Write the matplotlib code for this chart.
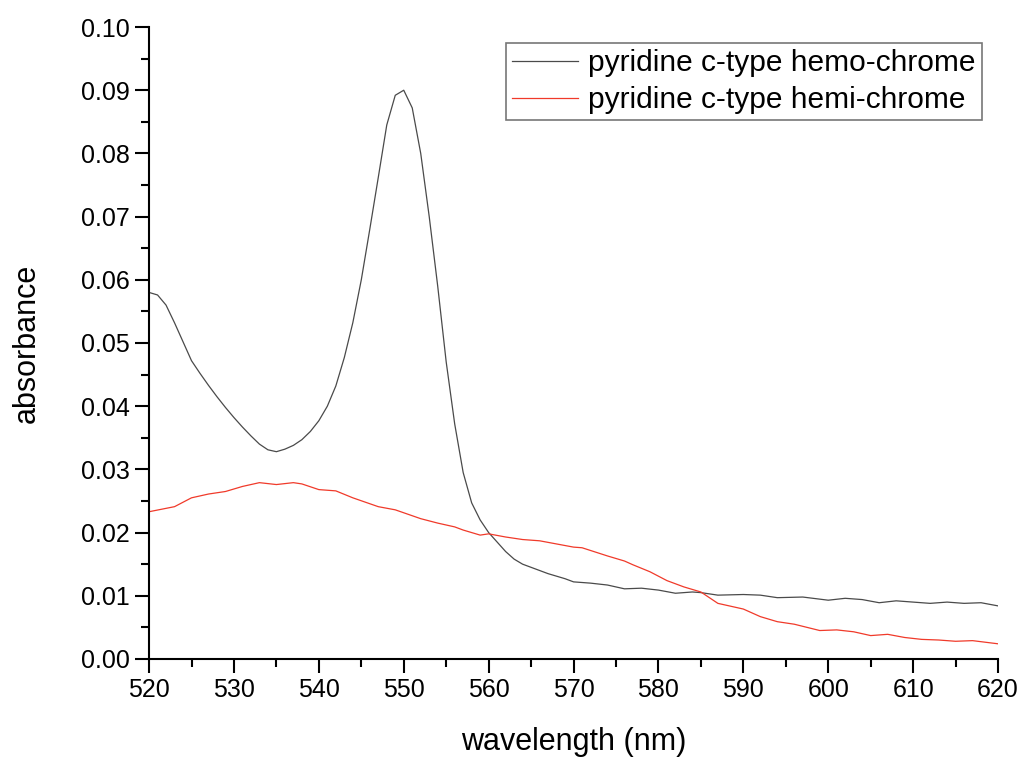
import matplotlib
matplotlib.use("Agg")
import matplotlib.pyplot as plt
from matplotlib.ticker import MultipleLocator, FormatStrFormatter

# hemo-chrome (black) spectrum
hemo_wl = [520, 521, 522, 523, 524, 525, 526, 527, 528, 529, 530, 531, 532, 533, 534,
           535, 536, 537, 538, 539, 540, 541, 542, 543, 544, 545, 546, 547, 548, 549,
           550, 551, 552, 553, 554, 555, 556, 557, 558, 559, 560, 561, 562, 563, 564,
           565, 566, 567, 568, 569, 570, 572, 574, 576, 578, 580, 582, 584, 585, 587,
           590, 592, 594, 597, 600, 602, 604, 606, 608, 610, 612, 614, 616, 618, 620]
hemo_abs = [0.0580, 0.0576, 0.0560, 0.0532, 0.0502, 0.0472, 0.0452, 0.0433, 0.0415, 0.0398,
            0.0382, 0.0367, 0.0353, 0.0340, 0.0331, 0.0328, 0.0332, 0.0338, 0.0347, 0.0360,
            0.0377, 0.0400, 0.0432, 0.0477, 0.0532, 0.0600, 0.0680, 0.0762, 0.0845, 0.0892,
            0.0900, 0.0872, 0.0800, 0.0700, 0.0590, 0.0470, 0.0372, 0.0295, 0.0247, 0.0220,
            0.0200, 0.0185, 0.0170, 0.0158, 0.0150, 0.0145, 0.0140, 0.0135, 0.0131, 0.0127,
            0.0122, 0.0120, 0.0117, 0.0111, 0.0112, 0.0109, 0.0104, 0.0106, 0.0105, 0.0101,
            0.0102, 0.0101, 0.0097, 0.0098, 0.0093, 0.0096, 0.0094, 0.0089, 0.0092, 0.0090,
            0.0088, 0.0090, 0.0088, 0.0089, 0.0084]

# hemi-chrome (red) spectrum
hemi_wl = [520, 523, 525, 527, 529, 531, 533, 535, 537, 538, 540, 542, 544, 547, 549,
           552, 554, 556, 557, 559, 560, 562, 564, 566, 568, 570, 571, 574, 576, 577,
           579, 581, 583, 585, 586, 587, 590, 592, 594, 596, 599, 601, 603, 605, 607,
           609, 611, 613, 615, 617, 620]
hemi_abs = [0.0233, 0.0241, 0.0255, 0.0261, 0.0265, 0.0273, 0.0279, 0.0276, 0.0279, 0.0277,
            0.0268, 0.0266, 0.0255, 0.0241, 0.0236, 0.0222, 0.0215, 0.0209, 0.0204, 0.0196,
            0.0198, 0.0193, 0.0189, 0.0187, 0.0182, 0.0177, 0.0176, 0.0163, 0.0155, 0.0149,
            0.0138, 0.0124, 0.0114, 0.0106, 0.0097, 0.0088, 0.0079, 0.0067, 0.0059, 0.0055,
            0.0045, 0.0046, 0.0043, 0.0037, 0.0039, 0.0034, 0.0031, 0.0030, 0.0028, 0.0029,
            0.0024]

labels = ["pyridine c-type hemo-chrome", "pyridine c-type hemi-chrome"]

plt.rcParams['font.family'] = ['Liberation Sans', 'DejaVu Sans']

fig = plt.figure(figsize=(10.23, 7.57), dpi=100)
ax = fig.add_axes([0.1457, 0.1295, 0.8299, 0.8348])

ax.plot(hemo_wl, hemo_abs, color='#4a4a4a', lw=0.9, label=labels[0])
ax.plot(hemi_wl, hemi_abs, color='#f03a2a', lw=0.9, label=labels[1])

ax.set_xlim(520, 620)
ax.set_ylim(0.0, 0.10)
ax.xaxis.set_major_locator(MultipleLocator(10))
ax.xaxis.set_minor_locator(MultipleLocator(5))
ax.yaxis.set_major_locator(MultipleLocator(0.01))
ax.yaxis.set_minor_locator(MultipleLocator(0.005))
ax.yaxis.set_major_formatter(FormatStrFormatter('%.2f'))

for s in ['top', 'right']:
    ax.spines[s].set_visible(False)
for s in ['left', 'bottom']:
    ax.spines[s].set_linewidth(1.5)

ax.tick_params(which='major', direction='out', length=10, width=1.5, labelsize=18, pad=4)
ax.tick_params(which='minor', direction='out', length=6, width=1.5)

ax.set_xlabel('wavelength (nm)', fontsize=22, labelpad=18)
ax.set_ylabel('absorbance', fontsize=22, labelpad=28)

leg = ax.legend(loc='upper right', fontsize=21.5, frameon=True, fancybox=False,
                edgecolor='#555555', handlelength=2.2, handletextpad=0.35,
                borderpad=0.2, labelspacing=0.3, borderaxespad=0.55)
leg.get_frame().set_linewidth(1.2)

fig.savefig('out.png', dpi=100)
